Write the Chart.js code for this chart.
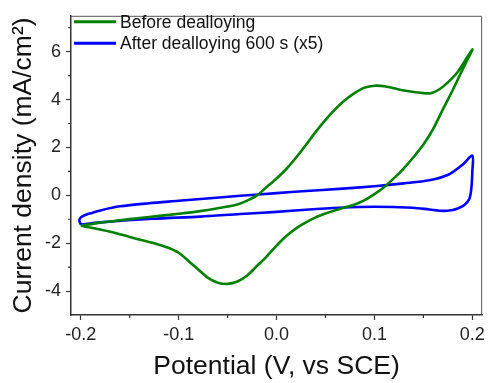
<!DOCTYPE html>
<html>
<head>
<meta charset="utf-8">
<script src="https://cdn.jsdelivr.net/npm/chart.js@4.4.1/dist/chart.umd.min.js"></script>
<style>
html,body{margin:0;padding:0;background:#fff;}
canvas{display:block;}
</style>
</head>
<body>
<canvas id="c" width="489" height="383"></canvas>
<script>
// ---- data ----
const seriesNames = ["Before dealloying", "After dealloying 600 s (x5)"];
const xTickValues = [-0.2, -0.1, 0.0, 0.1, 0.2];
const yTickValues = [-4, -2, 0, 2, 4, 6];
const xMinorTicks = [-0.15, -0.05, 0.05, 0.15];
const yMinorTicks = [-3, -1, 1, 3, 5, 7];

// Before dealloying (potential V, current density mA/cm2): forward scan then reverse scan
const beforeX = [-0.2, -0.18, -0.16, -0.14, -0.12, -0.1, -0.08, -0.06, -0.04, -0.03, -0.02, -0.01, 0.0, 0.01, 0.02, 0.03, 0.04, 0.05, 0.06, 0.07, 0.08, 0.09, 0.1, 0.11, 0.12, 0.13, 0.14, 0.15, 0.158, 0.166, 0.175, 0.185, 0.2,
  0.19, 0.18, 0.17, 0.16, 0.15, 0.14, 0.13, 0.12, 0.11, 0.1, 0.09, 0.08, 0.07, 0.06, 0.05, 0.04, 0.03, 0.02, 0.01, 0.0, -0.01, -0.02, -0.03, -0.04, -0.05, -0.06, -0.07, -0.08, -0.09, -0.1, -0.11, -0.12, -0.135, -0.15, -0.17, -0.2];
const beforeY = [-1.27, -1.14, -1.04, -0.95, -0.86, -0.77, -0.67, -0.54, -0.38, -0.22, 0.0, 0.35, 0.7, 1.1, 1.58, 2.1, 2.65, 3.15, 3.6, 3.98, 4.28, 4.5, 4.58, 4.56, 4.47, 4.38, 4.32, 4.27, 4.27, 4.42, 4.72, 5.15, 6.1,
  5.25, 4.4, 3.6, 2.78, 2.12, 1.6, 1.13, 0.72, 0.35, 0.05, -0.2, -0.38, -0.5, -0.62, -0.76, -0.92, -1.13, -1.38, -1.7, -2.1, -2.55, -2.95, -3.35, -3.6, -3.7, -3.65, -3.45, -3.1, -2.74, -2.4, -2.2, -2.06, -1.9, -1.74, -1.52, -1.27];

// After dealloying 600 s (x5)
const afterX = [-0.2, -0.2015, -0.2, -0.196, -0.19, -0.18, -0.16, -0.13, -0.1, -0.068, -0.037, 0.0, 0.03, 0.064, 0.1, 0.13, 0.156, 0.176, 0.19, 0.2,
  0.2, 0.199, 0.197, 0.1916, 0.185, 0.18, 0.17, 0.156, 0.139, 0.1, 0.064, 0.03, 0.0, -0.037, -0.078, -0.126, -0.177, -0.2];
const afterY = [-1.22, -1.05, -0.92, -0.83, -0.75, -0.63, -0.46, -0.33, -0.23, -0.12, -0.02, 0.09, 0.18, 0.27, 0.38, 0.5, 0.63, 0.87, 1.28, 1.66,
  1.0, 0.3, -0.14, -0.41, -0.55, -0.61, -0.65, -0.59, -0.52, -0.48, -0.52, -0.6, -0.69, -0.78, -0.89, -0.98, -1.12, -1.22];

const colors = ["#008000", "#0000ff"];

function pts(xs, ys) { return xs.map((x, i) => ({x: x, y: ys[i]})); }

const FONT = "'Liberation Sans', Arial, sans-serif";

const bgPlugin = {
  id: 'bg',
  beforeDraw(chart) {
    const ctx = chart.ctx;
    ctx.save();
    ctx.fillStyle = '#fff';
    ctx.fillRect(0, 0, chart.width, chart.height);
    ctx.restore();
  }
};

const framePlugin = {
  id: 'frame',
  afterDraw(chart) {
    const ctx = chart.ctx;
    const a = chart.chartArea;
    const xs = chart.scales.x, ys = chart.scales.y;
    ctx.save();
    // top & right border
    ctx.strokeStyle = '#555';
    ctx.lineWidth = 1;
    ctx.beginPath();
    ctx.moveTo(a.left, a.top + 0.5);
    ctx.lineTo(a.right - 0.5, a.top + 0.5);
    ctx.lineTo(a.right - 0.5, a.bottom);
    ctx.stroke();
    // minor ticks
    ctx.strokeStyle = '#333';
    ctx.lineWidth = 1.2;
    ctx.beginPath();
    yMinorTicks.forEach(v => {
      const y = ys.getPixelForValue(v);
      ctx.moveTo(a.left - 3, y);
      ctx.lineTo(a.left, y);
    });
    xMinorTicks.forEach(v => {
      const x = xs.getPixelForValue(v);
      ctx.moveTo(x, a.bottom);
      ctx.lineTo(x, a.bottom + 3);
    });
    ctx.stroke();
    // legend
    ctx.font = '17.5px ' + FONT;
    ctx.textBaseline = 'middle';
    ctx.textAlign = 'left';
    chart.data.datasets.forEach((ds, i) => {
      const y = 21.7 + i * 21.6;
      ctx.strokeStyle = ds.borderColor;
      ctx.lineWidth = 3;
      ctx.beginPath();
      ctx.moveTo(74, y);
      ctx.lineTo(116, y);
      ctx.stroke();
      ctx.fillStyle = '#111';
      ctx.fillText(ds.label, 120, y + 1);
    });
    ctx.restore();
  }
};

new Chart(document.getElementById('c'), {
  type: 'scatter',
  data: {
    datasets: [
      { label: seriesNames[0], data: pts(beforeX, beforeY), borderColor: colors[0], backgroundColor: colors[0], showLine: true, pointRadius: 0, borderWidth: 2.6, tension: 0.3, fill: false },
      { label: seriesNames[1], data: pts(afterX, afterY), borderColor: colors[1], backgroundColor: colors[1], showLine: true, pointRadius: 0, borderWidth: 2.6, tension: 0.3, fill: false }
    ]
  },
  plugins: [bgPlugin, framePlugin],
  options: {
    responsive: false,
    devicePixelRatio: 1,
    animation: false,
    layout: { padding: { left: 0, top: 11, right: 6, bottom: 0 } },
    plugins: { legend: { display: false }, tooltip: { enabled: false } },
    scales: {
      x: {
        type: 'linear',
        min: -0.21, max: 0.21,
        afterBuildTicks(s) { s.ticks = xTickValues.map(v => ({value: v})); },
        afterFit(s) { s.height = 68; },
        ticks: { color: '#222', font: { family: FONT, size: 18 }, padding: 4, maxRotation: 0,
          callback: v => v.toFixed(1) },
        grid: { drawOnChartArea: false, drawTicks: true, tickLength: 5, color: '#333', tickWidth: 1.2 },
        border: { display: true, color: '#333', width: 1.5 },
        title: { display: true, text: 'Potential (V, vs SCE)', color: '#111', font: { family: FONT, size: 26.5 }, padding: { top: 0, bottom: 0 } }
      },
      y: {
        type: 'linear',
        min: -5, max: 7.5,
        afterBuildTicks(s) { s.ticks = yTickValues.map(v => ({value: v})); },
        afterFit(s) { s.width = 71; },
        ticks: { color: '#222', font: { family: FONT, size: 18 }, padding: 5,
          callback: v => String(v) },
        grid: { drawOnChartArea: false, drawTicks: true, tickLength: 5, color: '#333', tickWidth: 1.2 },
        border: { display: true, color: '#333', width: 1.5 },
        title: { display: true, text: 'Current density (mA/cm²)', color: '#111', font: { family: FONT, size: 26.5 }, padding: { top: 8, bottom: 0 } }
      }
    }
  }
});
</script>
</body>
</html>
